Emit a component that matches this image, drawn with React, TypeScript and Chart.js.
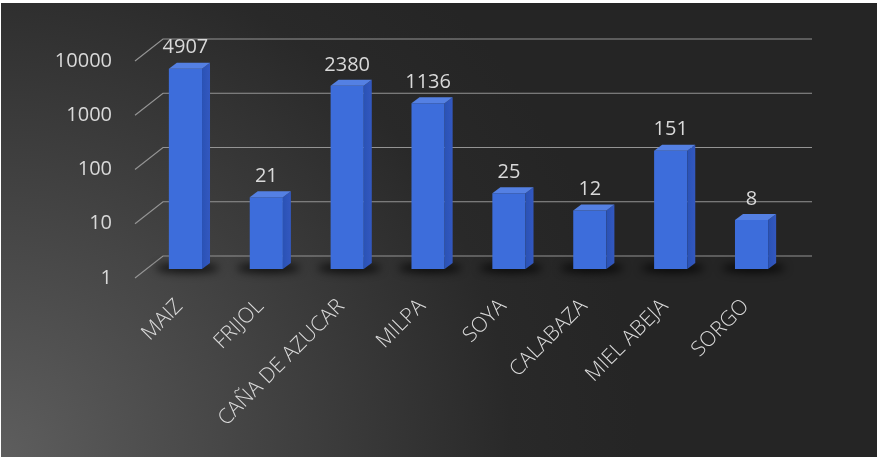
import React, { useEffect, useRef } from 'react';
import { Chart, registerables } from 'chart.js';

Chart.register(...registerables);

const categories = ['MAIZ', 'FRIJOL', 'CAÑA DE AZUCAR', 'MILPA', 'SOYA', 'CALABAZA', 'MIEL ABEJA', 'SORGO'];
const values = [4907, 21, 2380, 1136, 25, 12, 151, 8];
const yTickValues = [1, 10, 100, 1000, 10000];

const FONT = '"Open Sans", "Liberation Sans", sans-serif';
const TEXT = '#d9d9d9';

const scenePlugin = {
  id: 'scene3d',
  beforeDraw(chart: any) {
    const { ctx, width, height } = chart;
    ctx.save();
    ctx.fillStyle = '#ffffff';
    ctx.fillRect(0, 0, width, height);
    const g = ctx.createRadialGradient(0, height, 0, 0, height, 640);
    g.addColorStop(0, '#5e5e5e');
    g.addColorStop(0.45, '#404040');
    g.addColorStop(0.8, '#292929');
    g.addColorStop(1, '#252525');
    ctx.fillStyle = g;
    ctx.fillRect(1, 3, width - 3, height - 4);
    ctx.restore();
  },
  beforeDatasetsDraw(chart: any) {
    const { ctx, chartArea } = chart;
    const y = chart.scales.y;
    ctx.save();
    ctx.strokeStyle = '#949494';
    ctx.lineWidth = 1.2;
    yTickValues.forEach((v) => {
      const py = y.getPixelForValue(v);
      ctx.beginPath();
      ctx.moveTo(chartArea.left - 10, py + 9);
      ctx.lineTo(chartArea.left + 18, py - 13);
      ctx.lineTo(chartArea.right + 20, py - 13);
      ctx.stroke();
    });
    const meta = chart.getDatasetMeta(0);
    ctx.filter = 'blur(4px)';
    ctx.fillStyle = 'rgba(0,0,0,0.75)';
    meta.data.forEach((bar: any) => {
      const w = bar.width;
      ctx.beginPath();
      ctx.ellipse(bar.x + 2, bar.base - 1, w * 0.95, 5, 0, 0, Math.PI * 2);
      ctx.fill();
    });
    ctx.filter = 'none';
    ctx.restore();
  },
  afterDatasetsDraw(chart: any) {
    const { ctx } = chart;
    const meta = chart.getDatasetMeta(0);
    const dx = 8;
    const dy = 6;
    ctx.save();
    meta.data.forEach((bar: any, i: number) => {
      const w = bar.width;
      const l = bar.x - w / 2;
      const r = bar.x + w / 2;
      const top = bar.y;
      const base = bar.base;
      const sg = ctx.createLinearGradient(r, 0, r + dx, 0);
      sg.addColorStop(0, '#2a52b5');
      sg.addColorStop(1, '#3358c0');
      ctx.fillStyle = sg;
      ctx.beginPath();
      ctx.moveTo(r, top);
      ctx.lineTo(r + dx, top - dy);
      ctx.lineTo(r + dx, base - dy);
      ctx.lineTo(r, base);
      ctx.closePath();
      ctx.fill();
      ctx.fillStyle = '#5480e3';
      ctx.beginPath();
      ctx.moveTo(l, top);
      ctx.lineTo(l + dx, top - dy);
      ctx.lineTo(r + dx, top - dy);
      ctx.lineTo(r, top);
      ctx.closePath();
      ctx.fill();
      ctx.fillStyle = TEXT;
      ctx.font = `20px ${FONT}`;
      ctx.textAlign = 'center';
      ctx.textBaseline = 'middle';
      ctx.fillText(String(values[i]), bar.x, top - 21);
    });
    ctx.restore();
  },
};

export default function App() {
  const ref = useRef<HTMLCanvasElement | null>(null);
  useEffect(() => {
    const canvas = ref.current!;
    const chart = new Chart(canvas, {
      type: 'bar',
      data: {
        labels: categories,
        datasets: [
          {
            data: values,
            backgroundColor: (c: any) => {
              const el = c.element;
              if (!el || el.width === undefined) return '#3d6ddb';
              const l = el.x - el.width / 2;
              const g = c.chart.ctx.createLinearGradient(l, 0, l + el.width, 0);
              g.addColorStop(0, '#4878e2');
              g.addColorStop(0.5, '#4070dd');
              g.addColorStop(1, '#3563d2');
              return g;
            },
            borderWidth: 0,
            barPercentage: 0.41,
            categoryPercentage: 1,
          },
        ],
      },
      options: {
        responsive: false,
        animation: false,
        layout: { padding: { left: 0, top: 52, right: 87, bottom: 0 } },
        plugins: { legend: { display: false }, tooltip: { enabled: false } },
        scales: {
          x: {
            grid: { display: false, drawTicks: false },
            border: { display: false },
            ticks: {
              autoSkip: false,
              minRotation: 45,
              maxRotation: 45,
              color: TEXT,
              font: { family: FONT, size: 21, weight: 300 as any },
              padding: 25,
              labelOffset: -6,
            },
            afterFit: (s: any) => {
              s.height = 189;
            },
          },
          y: {
            type: 'logarithmic',
            min: 1,
            max: 10000,
            grid: { display: false, drawTicks: false },
            border: { display: false },
            afterBuildTicks: (s: any) => {
              s.ticks = yTickValues.map((v) => ({ value: v }));
            },
            ticks: {
              color: TEXT,
              font: { family: FONT, size: 20 },
              padding: 33,
              labelOffset: 9,
              callback: (v: any) => String(v),
            },
            afterFit: (s: any) => {
              s.width = 145;
            },
          },
        },
      },
      plugins: [scenePlugin],
    });
    return () => chart.destroy();
  }, []);
  return (
    <div style={{ position: 'absolute', left: 0, top: 0, width: 879, height: 458 }}>
      <canvas ref={ref} width={879} height={458} style={{ display: 'block', width: 879, height: 458 }} />
    </div>
  );
}
